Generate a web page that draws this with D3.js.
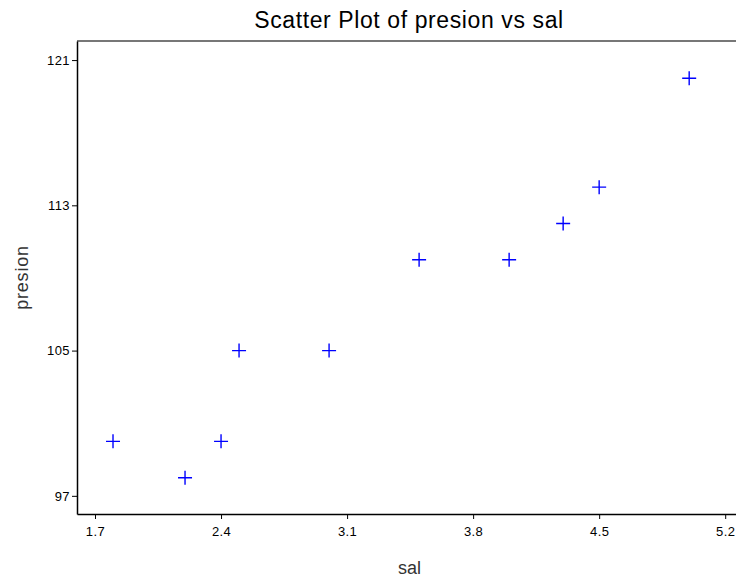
<!DOCTYPE html>
<html>
<head>
<meta charset="utf-8">
<script src="https://cdn.jsdelivr.net/npm/d3@7"></script>
<style>
  body { margin: 0; background: #fff; }
  svg { display: block; font-family: Arial, "Liberation Sans", sans-serif; }
</style>
</head>
<body>
<div id="chart"></div>
<script>
"use strict";

const salValues = [1.8, 2.2, 2.4, 2.5, 3.0, 3.5, 4.0, 4.3, 4.5, 5.0];
const presionValues = [100, 98, 100, 105, 105, 110, 110, 112, 114, 120];
const xTicks = [1.7, 2.4, 3.1, 3.8, 4.5, 5.2];
const yTicks = [97, 105, 113, 121];

const width = 736;
const height = 577;
const margin = { top: 41, right: 0, bottom: 63, left: 77 };

const svg = d3
  .select("#chart")
  .append("svg")
  .attr("width", width)
  .attr("height", height);

const x = d3.scaleLinear().domain([1.6, 5.26]).range([margin.left, width - margin.right]);
const y = d3.scaleLinear().domain([96, 122.05]).range([height - margin.bottom, margin.top]);

// top frame line
svg
  .append("line")
  .attr("x1", margin.left)
  .attr("x2", width)
  .attr("y1", margin.top)
  .attr("y2", margin.top)
  .attr("stroke", "#777")
  .attr("stroke-width", 2);

const xAxis = svg
  .append("g")
  .attr("transform", `translate(0,${height - margin.bottom})`)
  .call(d3.axisBottom(x).tickValues(xTicks).tickFormat(d3.format(".1f")).tickSize(5).tickSizeOuter(0));

const yAxis = svg
  .append("g")
  .attr("transform", `translate(${margin.left},0)`)
  .call(d3.axisLeft(y).tickValues(yTicks).tickSize(5).tickSizeOuter(0));

[xAxis, yAxis].forEach((g) => {
  g.select(".domain").attr("stroke", "#000").attr("stroke-width", 1.5);
  g.selectAll(".tick line").attr("stroke", "#000");
  g.selectAll(".tick text").attr("fill", "#000").style("font-size", "13px").style("letter-spacing", "0.4px");
});
xAxis.selectAll(".tick text").attr("dy", "1.05em");
yAxis.selectAll(".tick text").attr("x", -7);

// points as plus signs
svg
  .append("g")
  .selectAll("path")
  .data(salValues.map((s, i) => ({ sal: s, presion: presionValues[i] })))
  .join("path")
  .attr("transform", (d) => `translate(${x(d.sal)},${y(d.presion)})`)
  .attr("d", "M-7,0H7M0,-7V7")
  .attr("fill", "none")
  .attr("stroke", "#0000ff")
  .attr("stroke-width", 1.4);

svg
  .append("text")
  .attr("x", 409)
  .attr("y", 28)
  .attr("text-anchor", "middle")
  .style("font-size", "23px")
  .style("letter-spacing", "0.6px")
  .attr("fill", "#000")
  .text("Scatter Plot of presion vs sal");

svg
  .append("text")
  .attr("x", (margin.left + width) / 2 + 3)
  .attr("y", 574)
  .attr("text-anchor", "middle")
  .style("font-size", "18px")
  .attr("fill", "#333")
  .text("sal");

svg
  .append("text")
  .attr("transform", `translate(28,${(margin.top + height - margin.bottom) / 2}) rotate(-90)`)
  .attr("text-anchor", "middle")
  .style("font-size", "18px")
  .style("letter-spacing", "0.8px")
  .attr("fill", "#333")
  .text("presion");
</script>
</body>
</html>
